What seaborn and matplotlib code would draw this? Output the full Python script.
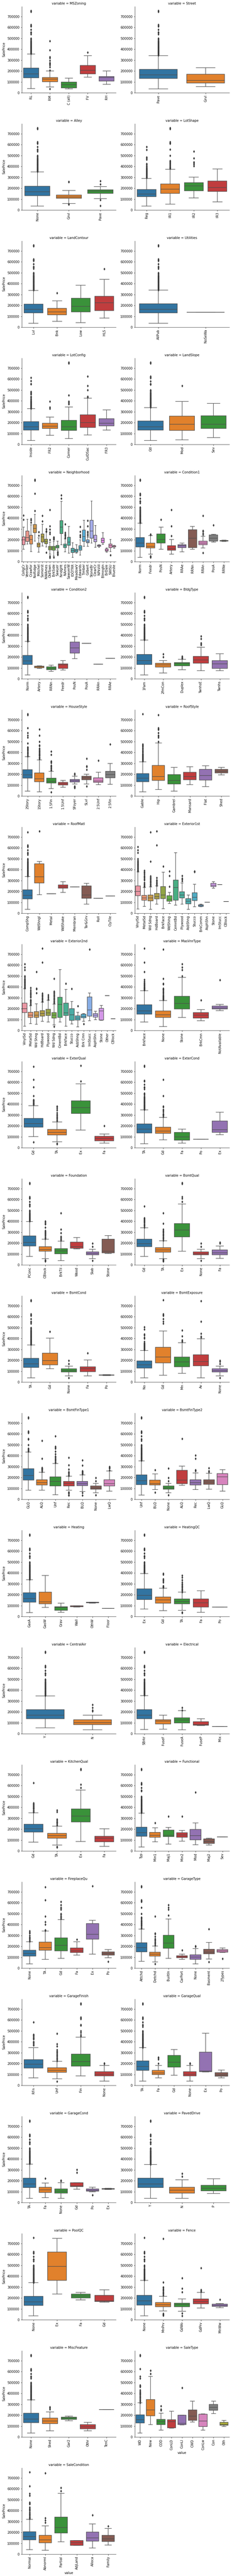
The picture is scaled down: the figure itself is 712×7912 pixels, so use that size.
import seaborn as sns
import matplotlib
matplotlib.use("Agg")
import pandas as pd

# all prices in thousands, boxes are [low whisker, q1, median, q3, high whisker]
main_tail = [755, 745, 625, 615, 611, 582, 556, 555, 550, 538, 501, 495, 485, 475, 470, 466, 460, 455, 451,
             446, 440, 438, 430, 426, 424, 420, 415, 412, 410, 405, 402, 395, 392, 390, 385, 382, 380, 378,
             375, 372, 370, 368, 365, 362, 360, 358, 355, 352, 350, 348, 345, 342, 340, 338]


def tail(limit, drop=()):
    return [v for v in main_tail if v > limit and v not in drop]


none_bsmt_low = [39]
none_bsmt_high = [168, 198]

mszoning_cats = ["RL", "RM", "C (all)", "FV", "RH"]
mszoning_box = [[39, 137, 174, 226, 357], [54, 101, 125, 141, 200], [35, 45, 76, 100, 135], [144, 173, 207, 252, 342], [78, 107, 140, 150, 200]]
mszoning_fliers = [tail(357), [37, 207, 235, 255, 262, 268, 275, 296, 320, 328, 392, 475], [], [370], []]

street_cats = ["Pave", "Grvl"]
street_box = [[36, 132, 165, 216, 342], [57, 90, 115, 171, 231]]
street_fliers = [tail(342), []]

alley_cats = ["None", "Grvl", "Pave"]
alley_box = [[37, 132, 168, 218, 350], [60, 107, 119, 139, 180], [105, 152, 175, 185, 216]]
alley_fliers = [tail(350), [50, 55, 256, 259], [40, 93, 237, 266]]

lotshape_cats = ["Reg", "IR1", "IR2", "IR3"]
lotshape_box = [[37, 122, 147, 189, 290], [54, 152, 191, 240, 375], [111, 176, 222, 252, 303], [76, 171, 205, 266, 377]]
lotshape_fliers = [[582, 555, 485, 475, 465, 425, 415, 405, 395, 385, 380, 375, 370, 365, 360, 355, 350, 345, 340, 335, 330, 325, 320, 315, 310, 305, 300, 295],
                   [755, 745, 625, 615, 611, 556, 501, 451, 445, 438, 430, 421, 412, 403, 395, 390, 385, 380],
                   [538, 475, 440, 430, 420, 403], []]

landcontour_cats = ["Lvl", "Bnk", "Low", "HLS"]
landcontour_box = [[35, 132, 165, 212, 338], [54, 113, 140, 174, 242], [42, 142, 191, 266, 385], [83, 152, 224, 283, 440]]
landcontour_fliers = [tail(338), [315], [], [537]]

utilities_cats = ["AllPub", "NoSeWa"]
utilities_box = [[35, 132, 165, 215, 341], [138, 138, 138, 138, 138]]
utilities_fliers = [tail(341), []]

lotconfig_cats = ["Inside", "FR2", "Corner", "CulDSac", "FR3"]
lotconfig_box = [[35, 131, 161, 209, 329], [83, 146, 168, 196, 251], [53, 130, 161, 220, 344], [86, 157, 200, 272, 425], [131, 172, 196, 235, 317]]
lotconfig_fliers = [[612, 585, 556, 555, 485, 475, 468, 460, 440, 430, 420, 410, 400, 395, 390, 385, 380, 375, 370, 365, 360, 355, 350, 345, 340, 335, 330],
                    [395, 340, 328], [755, 745, 451, 395, 385, 375, 370], [625, 538, 501, 440, 435], []]

landslope_cats = ["Gtl", "Mod", "Sev"]
landslope_box = [[35, 131, 163, 215, 338], [42, 130, 187, 259, 394], [62, 146, 187, 263, 376]]
landslope_fliers = [tail(338, (538,)), [540], []]

neighborhood_cats = ["CollgCr", "Veenker", "Crawfor", "NoRidge", "Mitchel", "Somerst", "NWAmes", "OldTown", "BrkSide", "Sawyer",
                     "NridgHt", "NAmes", "SawyerW", "IDOTRR", "MeadowV", "Edwards", "Timber", "Gilbert", "StoneBr", "ClearCr",
                     "NPkVill", "Blmngtn", "BrDale", "SWISU", "Blueste"]
neighborhood_box = [[113, 155, 199, 227, 316], [163, 187, 220, 282, 388], [92, 161, 203, 241, 338], [190, 266, 306, 342, 433],
                    [86, 134, 155, 171, 218], [145, 179, 228, 253, 344], [136, 166, 185, 205, 272], [68, 108, 125, 142, 179],
                    [52, 105, 125, 142, 185], [105, 127, 137, 151, 190], [155, 257, 316, 377, 555], [90, 130, 146, 161, 209],
                    [77, 149, 181, 223, 323], [38, 83, 103, 122, 173], [77, 86, 102, 115, 155], [59, 105, 126, 146, 200],
                    [140, 187, 230, 289, 380], [142, 175, 183, 199, 225], [172, 214, 281, 380, 558], [131, 184, 203, 243, 332],
                    [131, 141, 148, 152, 157], [160, 175, 195, 214, 265], [86, 95, 106, 117, 127], [92, 130, 146, 161, 203],
                    [124, 134, 139, 146, 151]]
neighborhood_fliers = [[385, 426], [], [359, 380, 392], [755, 745, 625, 468], [240, 271], [372, 423], [85, 275, 280, 300],
                       [37, 40, 50, 200, 255, 270, 297, 325, 475], [39, 203, 210, 215, 220, 225], [62, 67, 75, 85, 90], [582, 611],
                       [345, 265, 255, 245, 240, 235, 225, 215], [], [], [], [321, 275, 245, 235, 225], [], [240, 250, 265, 275, 325, 377],
                       [], [], [], [], [], [60], []]

condition1_cats = ["Norm", "Feedr", "PosN", "Artery", "RRAe", "RRNn", "RRAn", "PosA", "RRNe"]
condition1_box = [[38, 134, 170, 220, 353], [70, 125, 142, 170, 240], [113, 170, 203, 253, 316], [68, 106, 120, 146, 203], [90, 130, 146, 157, 172],
                  [113, 130, 214, 293, 323], [127, 155, 172, 190, 233], [180, 190, 214, 245, 250], [187, 188, 193, 196, 198]]
condition1_fliers = [tail(353), [40, 45, 52, 245, 250], [385], [235, 326, 476], [], [], [80, 247, 260, 279, 285, 423], [335], []]

condition2_cats = ["Norm", "Artery", "RRNn", "Feedr", "PosN", "PosA", "RRAn", "RRAe"]
condition2_box = [[37, 132, 165, 216, 343], [97, 101, 110, 116, 121], [69, 83, 97, 112, 126], [82, 96, 130, 139, 169], [187, 236, 285, 337, 388],
                  [325, 325, 325, 325, 325], [136, 136, 136, 136, 136], [190, 190, 190, 190, 190]]
condition2_fliers = [tail(343), [], [], [], [], [], [], []]

bldgtype_cats = ["1Fam", "2fmCon", "Duplex", "TwnhsE", "Twnhs"]
bldgtype_box = [[37, 132, 168, 223, 357], [54, 108, 130, 144, 169], [84, 121, 140, 149, 180], [76, 145, 174, 207, 289], [76, 96, 139, 168, 231]]
bldgtype_fliers = [tail(357), [200, 228], [185, 192, 198, 206], [392, 368, 330, 320, 310], []]

housestyle_cats = ["2Story", "1Story", "1.5Fin", "1.5Unf", "SFoyer", "SLvl", "2.5Unf", "2.5Fin"]
housestyle_box = [[45, 165, 194, 242, 362], [39, 131, 160, 212, 333], [68, 120, 136, 165, 227], [81, 102, 115, 125, 144],
                  [112, 130, 140, 153, 183], [111, 149, 169, 183, 200], [105, 127, 137, 168, 218], [107, 168, 198, 227, 299]]
housestyle_fliers = [[755, 745, 625, 582, 556, 540, 485, 450, 445, 440, 430, 425, 415, 405, 395, 385, 375, 365],
                     [612, 556, 501, 466, 460, 438, 430, 420, 412, 405, 395, 385, 380, 375, 370, 360, 350, 340],
                     [37, 410, 380, 319, 314, 305, 280, 272, 265, 255, 250, 240, 235], [], [75, 80, 85, 90, 197, 205],
                     [90, 241, 275, 270, 345], [325], [475]]

roofstyle_cats = ["Gable", "Hip", "Gambrel", "Mansard", "Flat", "Shed"]
roofstyle_box = [[39, 131, 165, 207, 314], [59, 144, 179, 281, 488], [45, 111, 144, 197, 263], [105, 149, 179, 218, 270], [87, 146, 188, 245, 278], [194, 213, 226, 245, 263]]
roofstyle_fliers = [[755, 475, 466, 460, 451, 440, 430, 420, 410, 400, 390, 385, 380, 375, 370, 365, 360, 355, 350, 345, 340, 335, 330, 325, 320],
                    [745, 625, 615, 611, 582, 556, 550, 538, 501], [], [], [], []]

roofmatl_cats = ["CompShg", "WdShngl", "Metal", "WdShake", "Membran", "Tar&Grv", "Roll", "ClyTile"]
roofmatl_box = [[37, 131, 165, 216, 338], [170, 279, 335, 455, 477], [181, 181, 181, 181, 181], [192, 230, 241, 260, 289], [241, 241, 241, 241, 241],
                [84, 137, 168, 251, 276], [137, 137, 137, 137, 137], [160, 160, 160, 160, 160]]
roofmatl_fliers = [tail(338, (755,)), [755], [], [], [], [], [], []]

exterior1st_cats = ["VinylSd", "MetalSd", "Wd Sdng", "HdBoard", "BrkFace", "WdShing", "CemntBd", "Plywood", "AsbShng", "Stucco", "BrkComm", "AsphShn", "Stone", "ImStucc", "CBlock"]
exterior1st_box = [[39, 161, 200, 251, 380], [63, 120, 140, 164, 236], [37, 114, 141, 168, 242], [84, 131, 153, 183, 251], [42, 135, 169, 246, 377],
                   [90, 111, 129, 161, 192], [75, 121, 236, 305, 558], [84, 142, 169, 198, 279], [37, 87, 112, 135, 168], [59, 117, 146, 188, 266],
                   [60, 64, 73, 79, 83], [101, 101, 101, 101, 101], [231, 245, 258, 276, 289], [262, 262, 262, 262, 262], [108, 108, 108, 108, 108]]
exterior1st_fliers = [[611, 582, 556, 501, 485, 475, 466, 460, 451, 446, 440, 430, 424, 415, 410, 402, 395, 392, 385],
                      [392, 380, 370, 360, 345, 335, 325, 315, 305, 280, 270, 265, 255, 250, 245],
                      [745, 475, 340, 330, 320, 310, 300, 290, 280, 270, 260, 250],
                      [755, 625, 325, 305, 295, 285, 275, 265, 255], [430], [245, 345, 385], [], [345, 320, 310, 295], [], [380, 385], [], [], [], [], []]

exterior2nd_cats = ["VinylSd", "MetalSd", "Wd Shng", "HdBoard", "Plywood", "Wd Sdng", "CmentBd", "BrkFace", "Stucco", "AsbShng", "Brk Cmn", "ImStucc", "AsphShn", "Stone", "Other", "CBlock"]
exterior2nd_box = [[39, 164, 200, 251, 383], [62, 120, 141, 168, 227], [57, 120, 141, 173, 245], [83, 131, 155, 184, 260], [77, 137, 163, 194, 279],
                   [52, 115, 141, 166, 242], [77, 120, 240, 305, 560], [40, 137, 161, 251, 377], [59, 92, 144, 200, 267], [34, 95, 113, 136, 169],
                   [83, 116, 130, 149, 156], [89, 132, 188, 307, 345], [100, 122, 140, 157, 176], [92, 96, 179, 203, 231], [320, 320, 320, 320, 320], [107, 107, 107, 107, 107]]
exterior2nd_fliers = [[611, 582, 556, 501, 490, 475, 466, 460, 451, 446, 440, 430, 424, 415, 410, 402, 395, 390],
                      [392, 370, 355, 345, 335, 325, 315, 305, 280, 275, 270, 260, 250, 240, 235], [538, 385, 380, 345],
                      [755, 625, 340, 330, 320, 310, 300, 290, 280, 270, 265], [325, 310, 300, 285],
                      [35, 475, 360, 350, 340, 330, 320, 310, 300, 290, 280, 270, 260, 250], [], [430], [383], [225], [60], [745], [], [], [], []]

masvnrtype_cats = ["BrkFace", "None", "Stone", "BrkCmn", "NotAvailable"]
masvnrtype_box = [[77, 150, 181, 236, 364], [35, 120, 144, 181, 275], [120, 198, 248, 314, 488], [89, 115, 140, 164, 192], [182, 198, 207, 225, 240]]
masvnrtype_fliers = [[755, 625, 538, 466, 451, 440, 430, 425, 415, 410, 402, 395, 390, 385, 380, 375, 370],
                     [745, 475, 430, 425, 385, 380, 375, 370, 360, 350, 340, 330, 320, 315, 310, 305, 300, 295, 290, 285, 280],
                     [611, 582, 556, 501], [277], [465]]

exterqual_cats = ["Gd", "TA", "Ex", "Fa"]
exterqual_box = [[102, 188, 222, 270, 387], [54, 118, 141, 169, 237], [161, 315, 368, 431, 587], [43, 62, 84, 105, 126]]
exterqual_fliers = [[52, 745, 625, 556, 475, 440, 435, 430, 425, 415, 410, 405, 400, 395], [34, 37, 40, 380, 375, 360, 345, 320, 305, 295, 285, 275, 265, 255, 245], [755, 611], [200]]

extercond_cats = ["TA", "Gd", "Fa", "Po", "Ex"]
extercond_box = [[37, 135, 171, 219, 348], [72, 132, 154, 189, 279], [43, 69, 100, 141, 171], [78, 78, 78, 78, 78], [120, 141, 165, 246, 326]]
extercond_fliers = [tail(348, (625, 475)), [625, 475, 380, 375, 350, 340, 330, 310, 305, 300, 295, 285], [], [], []]

foundation_cats = ["PConc", "CBlock", "BrkTil", "Wood", "Slab", "Stone"]
foundation_box = [[79, 175, 205, 266, 397], [58, 125, 142, 169, 236], [40, 103, 129, 151, 218], [146, 154, 167, 208, 250], [56, 92, 104, 121, 145], [104, 112, 127, 236, 269]]
foundation_fliers = [tail(397), [34, 37, 40, 45, 402, 392, 380, 375, 345, 315, 305, 300, 290, 285, 275, 265, 255, 245, 240], [475, 325, 292, 260, 250, 240, 235, 225], [], [39, 167, 198], []]

bsmtqual_cats = ["Gd", "TA", "Ex", "None", "Fa"]
bsmtqual_box = [[77, 168, 194, 236, 340], [58, 117, 139, 160, 220], [125, 256, 319, 380, 559], [56, 92, 102, 121, 145], [61, 92, 112, 137, 173]]
bsmtqual_fliers = [[538, 430, 425, 415, 410, 400, 395, 385, 375, 365, 355, 345], [34, 37, 40, 45, 50, 475, 380, 325, 315, 305, 295, 285, 275, 265, 255, 245, 235, 225],
                   [755, 745, 625, 611, 582], none_bsmt_low + [167, 198], [198, 206]]

bsmtcond_cats = ["TA", "Gd", "None", "Fa", "Po"]
bsmtcond_box = [[39, 134, 168, 218, 342], [122, 159, 197, 266, 405], [57, 93, 106, 122, 146], [57, 96, 123, 140, 203], [61, 63, 65, 67, 69]]
bsmtcond_fliers = [tail(342), [465], none_bsmt_low + none_bsmt_high, [266], []]

bsmtexposure_cats = ["No", "Gd", "Mn", "Av", "None"]
bsmtexposure_box = [[39, 128, 159, 194, 290], [63, 176, 231, 320, 470], [81, 140, 185, 231, 362], [39, 149, 188, 251, 398], [57, 93, 106, 122, 146]]
bsmtexposure_fliers = [[505, 485, 440, 430, 410, 402, 370, 360, 355, 350, 345, 340, 335, 330, 325, 320, 315, 310, 305, 300, 295],
                       [755, 625, 615, 611, 582, 556, 538], [475, 421, 385, 378, 370], [745, 556, 445, 420, 410], none_bsmt_low + [168, 190, 198]]

bsmtfintype1_cats = ["GLQ", "ALQ", "Unf", "Rec", "BLQ", "None", "LwQ"]
bsmtfintype1_box = [[83, 176, 218, 281, 433], [83, 131, 152, 181, 248], [41, 122, 164, 205, 328], [83, 124, 147, 164, 211], [71, 125, 143, 166, 224], [59, 92, 105, 122, 146], [76, 122, 144, 181, 259]]
bsmtfintype1_fliers = [[755, 745, 625, 615, 611, 556, 550, 501, 466, 460, 451, 445, 440], [538, 375, 290, 285, 280, 275, 270, 265, 255],
                       [582, 485, 475, 466, 440, 415, 395, 385, 375, 365, 355, 345, 335], [35, 40, 55, 60, 65, 383, 313, 275, 250, 245, 235, 225, 215],
                       [35, 60, 359, 310, 260, 255, 250, 245, 240, 235, 230], none_bsmt_low + none_bsmt_high, [265, 285, 290, 295, 300]]

bsmtfintype2_cats = ["Unf", "BLQ", "None", "ALQ", "Rec", "LwQ", "GLQ"]
bsmtfintype2_box = [[39, 134, 170, 224, 353], [89, 131, 144, 176, 233], [59, 92, 106, 122, 146], [128, 143, 178, 266, 305], [89, 131, 152, 181, 242], [92, 137, 158, 181, 238], [76, 134, 205, 235, 272]]
bsmtfintype2_fliers = [tail(353, (556,)), [62, 270], none_bsmt_low + none_bsmt_high + [284], [556], [375, 403, 270, 265, 260], [287, 260, 250], []]

heating_cats = ["GasA", "GasW", "Grav", "Wall", "OthW", "Floor"]
heating_box = [[37, 132, 165, 217, 339], [84, 117, 135, 223, 378], [40, 58, 84, 91, 124], [88, 90, 93, 98, 100], [124, 125, 128, 131, 133], [75, 75, 75, 75, 75]]
heating_fliers = [tail(339), [], [], [], [], []]

heatingqc_cats = ["Ex", "Gd", "TA", "Fa", "Po"]
heatingqc_box = [[69, 156, 195, 255, 396], [54, 123, 154, 180, 261], [58, 117, 139, 163, 223], [40, 88, 126, 163, 237], [87, 87, 87, 87, 87]]
heatingqc_fliers = [tail(396), [395, 385, 345, 335, 325, 315, 280, 275, 270, 265], [34, 40, 378, 360, 335, 315, 300, 295, 285, 275, 265, 255, 245, 235, 225], [], []]

centralair_cats = ["Y", "N"]
centralair_box = [[54, 139, 171, 222, 348], [37, 84, 101, 130, 172]]
centralair_fliers = [tail(348), [205, 215, 238, 265]]

electrical_cats = ["SBrkr", "FuseF", "FuseA", "FuseP", "Mix"]
electrical_box = [[39, 139, 171, 222, 350], [43, 89, 117, 130, 172], [37, 100, 125, 147, 212], [74, 78, 85, 111, 137], [67, 67, 67, 67, 67]]
electrical_fliers = [tail(350), [], [215, 240], [], []]

kitchenqual_cats = ["Gd", "TA", "Ex", "Fa"]
kitchenqual_box = [[81, 173, 203, 246, 350], [54, 117, 142, 161, 228], [87, 266, 320, 386, 560], [42, 83, 117, 135, 203]]
kitchenqual_fliers = [[625, 440, 430, 425, 415, 410, 402, 395, 390, 385, 375, 365, 355], [34, 37, 40, 375, 360, 290, 280, 270, 265, 260, 250, 240, 235], [755, 745, 611, 582], []]

functional_cats = ["Typ", "Min1", "Maj1", "Min2", "Mod", "Maj2", "Sev"]
functional_box = [[35, 134, 168, 218, 348], [83, 126, 143, 170, 213], [63, 132, 143, 191, 216], [89, 126, 146, 168, 189], [57, 103, 141, 197, 258], [54, 69, 88, 111, 117], [130, 130, 130, 130, 130]]
functional_fliers = [tail(348, (538,)), [256], [316], [318], [538], [], []]

fireplacequ_cats = ["None", "TA", "Gd", "Fa", "Ex", "Po"]
fireplacequ_box = [[38, 112, 136, 166, 241], [82, 166, 190, 238, 342], [91, 160, 208, 277, 447], [119, 144, 160, 187, 241], [130, 265, 312, 411, 441], [95, 120, 136, 151, 172]]
fireplacequ_fliers = [[340, 330, 320, 300, 285, 275, 265, 255, 245], [745, 625, 475, 425, 402, 345, 350], [611, 582, 556, 550, 538, 501, 490, 475, 466, 455], [262], [755], [60]]

garagetype_cats = ["Attchd", "Detchd", "BuiltIn", "CarPort", "None", "Basment", "2Types"]
garagetype_box = [[62, 151, 188, 234, 360], [58, 112, 130, 147, 202], [91, 182, 230, 301, 453], [82, 97, 105, 113, 130], [38, 82, 101, 124, 181], [85, 133, 146, 175, 235], [144, 148, 160, 171, 187]]
garagetype_fliers = [[755, 745, 625, 615, 611, 556, 501, 466, 460, 451, 440, 430, 425, 415, 410, 402, 395, 385, 375, 365],
                     [40, 475, 320, 315, 290, 270, 260, 250, 240, 230, 220, 210], [582, 556, 538, 485], [165], [198, 203], [58, 359], [88]]

garagefinish_cats = ["RFn", "Unf", "Fin", "None"]
garagefinish_box = [[70, 160, 194, 236, 346], [59, 120, 137, 161, 220], [86, 178, 218, 286, 442], [38, 86, 102, 125, 182]]
garagefinish_fliers = [[582, 466, 460, 451, 440, 430, 425, 402, 395, 385, 375, 368], [37, 475, 380, 360, 325, 315, 305, 295, 285, 275, 265, 255, 245, 235, 225],
                       [755, 745, 625, 615, 611, 556, 550, 501, 485, 465, 451], [198, 203]]

garagequal_cats = ["TA", "Fa", "Gd", "None", "Ex", "Po"]
garagequal_box = [[38, 137, 173, 224, 346], [68, 100, 113, 137, 182], [92, 169, 212, 275, 329], [38, 86, 102, 125, 182], [122, 125, 131, 305, 479], [68, 83, 97, 118, 140]]
garagequal_fliers = [tail(346), [200, 240, 250, 258], [], [198, 203], [], []]

garagecond_cats = ["TA", "Fa", "None", "Gd", "Po", "Ex"]
garagecond_box = [[38, 137, 172, 223, 352], [44, 92, 116, 140, 179], [38, 86, 104, 127, 182], [122, 146, 152, 183, 183], [98, 104, 113, 125, 140], [120, 123, 126, 129, 131]]
garagecond_fliers = [tail(352), [222], [198, 203], [275, 303], [68], []]

paveddrive_cats = ["Y", "N", "P"]
paveddrive_box = [[38, 137, 172, 223, 349], [38, 86, 113, 140, 209], [83, 107, 133, 160, 218]]
paveddrive_fliers = [tail(349), [240, 266], []]

poolqc_cats = ["None", "Ex", "Fa", "Gd"]
poolqc_box = [[37, 132, 166, 216, 340], [237, 363, 492, 621, 747], [183, 201, 217, 235, 252], [161, 169, 174, 224, 276]]
poolqc_fliers = [tail(340, (745,)), [], [], []]

fence_cats = ["None", "MnPrv", "GdWo", "GdPrv", "MnWw"]
fence_box = [[37, 135, 174, 224, 363], [81, 121, 139, 159, 216], [78, 121, 142, 152, 191], [108, 147, 169, 192, 252], [111, 123, 132, 144, 151]]
fence_fliers = [tail(363, (745, 475)), [40, 45, 52, 58, 745, 345, 300, 295, 285, 275, 265, 255, 245, 235, 225], [35, 60, 255, 288, 382], [475, 275, 265, 258], [187]]

miscfeature_cats = ["None", "Shed", "Gar2", "Othr", "TenC"]
miscfeature_box = [[35, 132, 165, 217, 342], [56, 122, 147, 173, 231], [151, 161, 173, 183, 191], [56, 75, 94, 113, 135], [250, 250, 250, 250, 250]]
miscfeature_fliers = [tail(342), [255, 265, 275], [], [], []]

saletype_cats = ["WD", "New", "COD", "ConLD", "ConLI", "CWD", "ConLw", "Con", "Oth"]
saletype_box = [[35, 130, 158, 203, 313], [113, 194, 248, 344, 558], [62, 113, 141, 161, 218], [80, 85, 140, 160, 237], [110, 115, 125, 200, 200],
                [137, 152, 192, 248, 330], [62, 95, 147, 208, 212], [215, 246, 272, 300, 328], [95, 107, 115, 135, 152]]
saletype_fliers = [[755, 745, 625, 556, 540, 475, 466, 460, 430, 420, 410, 402, 395, 385, 375, 365, 355, 345, 335, 325, 315], [611, 582], [245, 255, 285], [], [452], [], [], [], []]

salecondition_cats = ["Normal", "Abnorml", "Partial", "AdjLand", "Alloca", "Family"]
salecondition_box = [[42, 131, 162, 207, 320], [36, 104, 132, 173, 260], [113, 194, 245, 341, 560], [81, 82, 104, 127, 127], [56, 119, 149, 203, 277], [83, 117, 142, 173, 236]]
salecondition_fliers = [[755, 625, 556, 540, 475, 466, 460, 430, 420, 410, 402, 385, 375, 365, 355, 345, 335, 325], [745, 333, 310, 290], [611, 582], [], [359], [258]]

panels = [
    ("MSZoning", mszoning_cats, mszoning_box, mszoning_fliers),
    ("Street", street_cats, street_box, street_fliers),
    ("Alley", alley_cats, alley_box, alley_fliers),
    ("LotShape", lotshape_cats, lotshape_box, lotshape_fliers),
    ("LandContour", landcontour_cats, landcontour_box, landcontour_fliers),
    ("Utilities", utilities_cats, utilities_box, utilities_fliers),
    ("LotConfig", lotconfig_cats, lotconfig_box, lotconfig_fliers),
    ("LandSlope", landslope_cats, landslope_box, landslope_fliers),
    ("Neighborhood", neighborhood_cats, neighborhood_box, neighborhood_fliers),
    ("Condition1", condition1_cats, condition1_box, condition1_fliers),
    ("Condition2", condition2_cats, condition2_box, condition2_fliers),
    ("BldgType", bldgtype_cats, bldgtype_box, bldgtype_fliers),
    ("HouseStyle", housestyle_cats, housestyle_box, housestyle_fliers),
    ("RoofStyle", roofstyle_cats, roofstyle_box, roofstyle_fliers),
    ("RoofMatl", roofmatl_cats, roofmatl_box, roofmatl_fliers),
    ("Exterior1st", exterior1st_cats, exterior1st_box, exterior1st_fliers),
    ("Exterior2nd", exterior2nd_cats, exterior2nd_box, exterior2nd_fliers),
    ("MasVnrType", masvnrtype_cats, masvnrtype_box, masvnrtype_fliers),
    ("ExterQual", exterqual_cats, exterqual_box, exterqual_fliers),
    ("ExterCond", extercond_cats, extercond_box, extercond_fliers),
    ("Foundation", foundation_cats, foundation_box, foundation_fliers),
    ("BsmtQual", bsmtqual_cats, bsmtqual_box, bsmtqual_fliers),
    ("BsmtCond", bsmtcond_cats, bsmtcond_box, bsmtcond_fliers),
    ("BsmtExposure", bsmtexposure_cats, bsmtexposure_box, bsmtexposure_fliers),
    ("BsmtFinType1", bsmtfintype1_cats, bsmtfintype1_box, bsmtfintype1_fliers),
    ("BsmtFinType2", bsmtfintype2_cats, bsmtfintype2_box, bsmtfintype2_fliers),
    ("Heating", heating_cats, heating_box, heating_fliers),
    ("HeatingQC", heatingqc_cats, heatingqc_box, heatingqc_fliers),
    ("CentralAir", centralair_cats, centralair_box, centralair_fliers),
    ("Electrical", electrical_cats, electrical_box, electrical_fliers),
    ("KitchenQual", kitchenqual_cats, kitchenqual_box, kitchenqual_fliers),
    ("Functional", functional_cats, functional_box, functional_fliers),
    ("FireplaceQu", fireplacequ_cats, fireplacequ_box, fireplacequ_fliers),
    ("GarageType", garagetype_cats, garagetype_box, garagetype_fliers),
    ("GarageFinish", garagefinish_cats, garagefinish_box, garagefinish_fliers),
    ("GarageQual", garagequal_cats, garagequal_box, garagequal_fliers),
    ("GarageCond", garagecond_cats, garagecond_box, garagecond_fliers),
    ("PavedDrive", paveddrive_cats, paveddrive_box, paveddrive_fliers),
    ("PoolQC", poolqc_cats, poolqc_box, poolqc_fliers),
    ("Fence", fence_cats, fence_box, fence_fliers),
    ("MiscFeature", miscfeature_cats, miscfeature_box, miscfeature_fliers),
    ("SaleType", saletype_cats, saletype_box, saletype_fliers),
    ("SaleCondition", salecondition_cats, salecondition_box, salecondition_fliers),
]

# five values per category give exactly the five numbers of the box
box_rows = []
flier_rows = []
for name, cats, boxes, fliers in panels:
    for cat, box, out in zip(cats, boxes, fliers):
        for v in box:
            box_rows.append((name, cat, v * 1000))
        for v in out:
            flier_rows.append((name, cat, v * 1000))
box_df = pd.DataFrame(box_rows, columns=["variable", "value", "SalePrice"])
flier_df = pd.DataFrame(flier_rows, columns=["variable", "value", "SalePrice"])

g = sns.FacetGrid(box_df, col="variable", col_wrap=2, col_order=[p[0] for p in panels],
                  sharex=False, sharey=False, height=5, aspect=1)

for i, (ax, panel) in enumerate(zip(g.axes.flat, panels)):
    name, cats = panel[0], panel[1]
    if len(cats) <= 10:
        colors = sns.color_palette("tab10", len(cats))
    else:
        colors = sns.husl_palette(len(cats), l=.7)
    sns.boxplot(data=box_df[box_df["variable"] == name], x="value", y="SalePrice", hue="value",
                order=cats, hue_order=cats, palette=colors, legend=False, dodge=False, whis=(0, 100),
                showfliers=False, saturation=.75, width=.8, linewidth=1.5, linecolor="#4d4d4d", ax=ax)
    sns.stripplot(data=flier_df[flier_df["variable"] == name], x="value", y="SalePrice", order=cats,
                  jitter=False, marker="d", size=5, color="#3d3d3d", edgecolor="#3d3d3d", linewidth=1, zorder=5, ax=ax)
    ax.set_ylim(0, 793000)
    ax.tick_params(axis="x", rotation=90)
    ax.set_ylabel("SalePrice" if i % 2 == 0 else "")
    ax.set_xlabel("value" if name in ("SaleType", "SaleCondition") else "")

g.set_titles()
g.fig.set_size_inches(712 / 72, 7912 / 72)
g.fig.subplots_adjust(left=66.5 / 712, right=703.5 / 712, top=1 - 20 / 7912, bottom=67 / 7912,
                      wspace=57.5 / 290, hspace=95 / 265)
g.fig.savefig("out.png", dpi=72)
print("done")
